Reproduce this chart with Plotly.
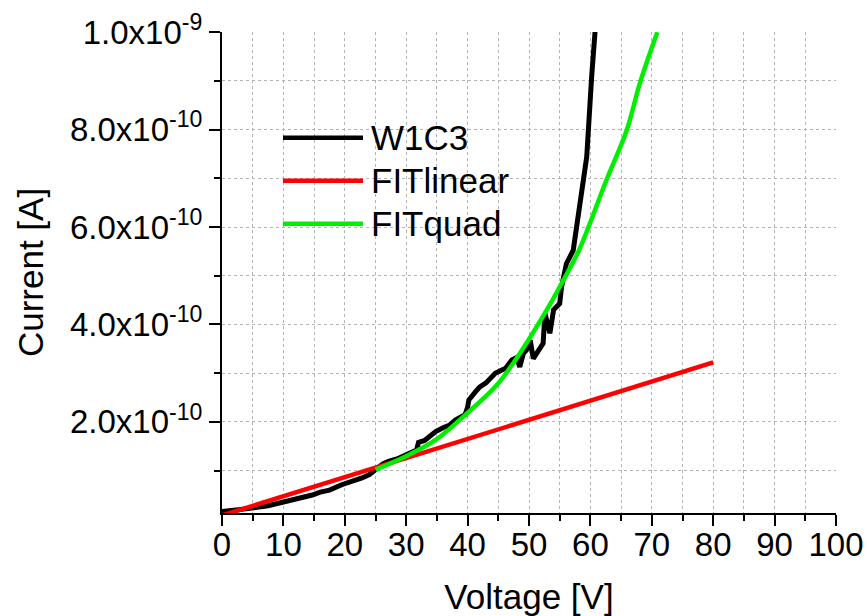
import plotly.graph_objects as go

# W1C3 measured curve (V, A)
w1c3_v = [0, 2.5, 4.9, 7.5, 9.8, 12.0, 14.7, 16.0, 17.5, 19.5, 21.0, 22.8, 24.0, 25.0, 26.2, 27.1,
          28.5, 29.9, 31.0, 31.7, 32.0, 33.0, 34.0, 34.8, 36.0, 37.0, 38.0, 39.0, 39.6, 40.0, 40.2,
          41.3, 42.0, 43.0, 44.5, 45.5, 46.2, 47.2, 48.0, 48.5, 49.1, 49.6, 50.2, 50.7, 51.5, 52.3,
          52.6, 53.4, 54.0, 55.0, 55.3, 56.1, 57.2, 58.3, 59.4, 59.7, 59.9, 60.2, 60.75, 61.2]
w1c3_i = [0.16e-10, 0.19e-10, 0.23e-10, 0.28e-10, 0.35e-10, 0.41e-10, 0.50e-10, 0.56e-10, 0.60e-10,
          0.71e-10, 0.77e-10, 0.85e-10, 0.92e-10, 1.02e-10, 1.14e-10, 1.19e-10,
          1.24e-10, 1.32e-10, 1.38e-10, 1.42e-10, 1.58e-10, 1.62e-10, 1.72e-10, 1.80e-10, 1.88e-10,
          1.93e-10, 2.04e-10, 2.12e-10, 2.15e-10, 2.30e-10, 2.45e-10,
          2.62e-10, 2.72e-10, 2.80e-10, 3.00e-10, 3.06e-10, 3.10e-10, 3.27e-10, 3.32e-10, 3.13e-10,
          3.41e-10, 3.48e-10, 3.68e-10, 3.30e-10, 3.45e-10, 3.61e-10, 4.23e-10,
          3.82e-10, 4.30e-10, 4.43e-10, 4.77e-10, 5.25e-10, 5.52e-10,
          6.55e-10, 7.44e-10, 8.05e-10, 8.60e-10, 9.08e-10, 10.0e-10, 10.8e-10]

# linear fit
lin_v = [0, 80]
lin_i = [0.08e-10, 3.22e-10]

# quadratic fit
quad_v = [25.0, 29.9, 34.8, 39.6, 44.5, 47.4, 52.9, 55.6, 58.2, 62.6, 65.9, 68.1, 70.9]
quad_i = [1.02e-10, 1.29e-10, 1.63e-10, 2.14e-10, 2.72e-10, 3.20e-10, 4.30e-10, 4.91e-10,
          5.54e-10, 6.96e-10, 7.98e-10, 8.97e-10, 10.0e-10]

y_tickvals = [2e-10, 4e-10, 6e-10, 8e-10, 1e-9]
y_ticktext = ["2.0x10<sup>-10</sup>", "4.0x10<sup>-10</sup>", "6.0x10<sup>-10</sup>",
              "8.0x10<sup>-10</sup>", "1.0x10<sup>-9</sup>"]
y_minor = [1e-10, 3e-10, 5e-10, 7e-10, 9e-10]

names = ["W1C3", "FITlinear", "FITquad"]
colors = ["#000000", "#ff0000", "#00ee00"]

FONT = "Liberation Sans, Arial, sans-serif"
FS = 35
TFS = 33

fig = go.Figure()
fig.add_trace(go.Scatter(x=w1c3_v, y=w1c3_i, mode="lines", name=names[0],
                         line=dict(color=colors[0], width=5)))
fig.add_trace(go.Scatter(x=lin_v, y=lin_i, mode="lines", name=names[1],
                         line=dict(color=colors[1], width=4.5)))
fig.add_trace(go.Scatter(x=quad_v, y=quad_i, mode="lines", name=names[2],
                         line=dict(color=colors[2], width=4.5, shape="spline")))

grid = dict(showgrid=True, gridcolor="#b4b4b4", griddash="dot", gridwidth=1)

fig.update_xaxes(range=[0, 100], tickmode="linear", tick0=0, dtick=10,
                 ticks="outside", ticklen=11, tickwidth=2, tickcolor="black",
                 showline=True, linecolor="black", linewidth=2, zeroline=False,
                 tickfont=dict(family=FONT, size=TFS, color="black"), ticklabelstandoff=-10,
                 title=dict(text="Voltage [V]", font=dict(family=FONT, size=FS, color="black"), standoff=23),
                 minor=dict(tickmode="linear", tick0=0, dtick=5, ticks="outside", ticklen=6,
                            tickwidth=2, tickcolor="black", **grid),
                 **grid)
fig.update_yaxes(range=[0.13e-10, 1.0004e-9], tickmode="array", tickvals=y_tickvals, ticktext=y_ticktext,
                 ticks="outside", ticklen=11, tickwidth=2, tickcolor="black",
                 showline=True, linecolor="black", linewidth=2, zeroline=False,
                 tickfont=dict(family=FONT, size=TFS, color="black"),
                 title=dict(text="Current [A]", font=dict(family=FONT, size=FS, color="black"), standoff=16),
                 minor=dict(tickmode="array", tickvals=y_minor, ticks="outside", ticklen=6,
                            tickwidth=2, tickcolor="black", **grid),
                 **grid)

# manual legend (long line samples)
leg_y = [0.780, 0.6906, 0.6013]
shapes = []
annotations = []
for nm, col, yy in zip(names, colors, leg_y):
    shapes.append(dict(type="line", xref="paper", yref="paper", x0=0.0993, x1=0.2296, y0=yy, y1=yy,
                       line=dict(color=col, width=4.5)))
    annotations.append(dict(xref="paper", yref="paper", x=0.2394, y=yy, text=nm, showarrow=False,
                            xanchor="left", yanchor="middle",
                            font=dict(family=FONT, size=FS, color="black")))

fig.update_layout(width=867, height=616, margin=dict(l=222, r=31, t=32, b=103, autoexpand=False),
                  plot_bgcolor="white", paper_bgcolor="white", showlegend=False,
                  shapes=shapes, annotations=annotations)

# remove the default page margin so the figure fills the window exactly
fig.write_html("out.html", config={"displayModeBar": False},
               post_script="document.body.style.margin='0';document.body.style.overflow='hidden';")
